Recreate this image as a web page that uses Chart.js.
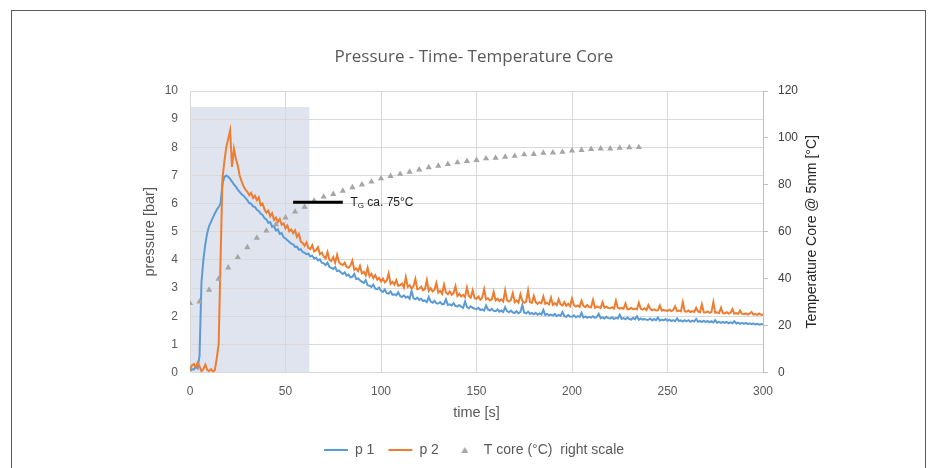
<!DOCTYPE html>
<html>
<head>
<meta charset="utf-8">
<script src="https://cdn.jsdelivr.net/npm/chart.js@4.4.1/dist/chart.umd.min.js"></script>
<style>
  html, body { margin: 0; padding: 0; background: #fff; }
  #wrap { position: relative; width: 928px; height: 468px; overflow: hidden; }
  #frame { position: absolute; left: 11px; top: 10px; width: 913px; height: 480px; border: 1.5px solid #5a5a5a; pointer-events: none; }
  canvas { position: absolute; left: 0; top: 0; }
</style>
</head>
<body>
<div id="wrap">
  <canvas id="chart" width="928" height="468"></canvas>
  <div id="frame"></div>
</div>
<script>
// Pressure readings, one value per second from t = 0 to t = 300 s
const p1Values = [
  0.05, 0.12, 0.1, 0.22, 0.15, 0.6, 3.2, 4.0, 4.55, 4.95,
  5.2, 5.35, 5.5, 5.65, 5.78, 5.88, 6.0, 6.7, 6.95, 7.0,
  6.95, 6.88, 6.78, 6.68, 6.6, 6.5, 6.42, 6.33, 6.28, 6.2,
  6.12, 6.02, 6.0, 5.9, 5.88, 5.78, 5.74, 5.64, 5.6, 5.48,
  5.44, 5.32, 5.34, 5.18, 5.2, 5.04, 5.08, 4.92, 4.95, 4.8,
  4.76, 4.7, 4.64, 4.58, 4.55, 4.46, 4.47, 4.36, 4.38, 4.28,
  4.25, 4.2, 4.22, 4.12, 4.15, 4.05, 4.08, 3.98, 4.02, 3.9,
  3.88, 3.82, 3.9, 3.75, 3.72, 3.68, 3.74, 3.6, 3.62, 3.55,
  3.5, 3.56, 3.44, 3.48, 3.38, 3.4, 3.5, 3.32, 3.34, 3.28,
  3.22, 3.18, 3.28, 3.1, 3.08, 3.04, 3.12, 2.98, 2.96, 3.02,
  2.9, 2.86, 2.95, 2.82, 2.8, 2.88, 2.76, 2.78, 2.74, 2.85,
  2.72, 2.68, 2.74, 2.66, 2.7, 2.62, 2.9, 2.64, 2.6, 2.66,
  2.58, 2.62, 2.54, 2.56, 2.5, 2.68, 2.52, 2.48, 2.55, 2.46,
  2.45, 2.5, 2.42, 2.44, 2.6, 2.4, 2.42, 2.38, 2.46, 2.36,
  2.35, 2.4, 2.34, 2.3, 2.52, 2.32, 2.28, 2.35, 2.3, 2.27,
  2.25, 2.3, 2.22, 2.24, 2.2, 2.38, 2.24, 2.2, 2.26, 2.19,
  2.18, 2.24, 2.16, 2.2, 2.15, 2.32, 2.18, 2.14, 2.2, 2.13,
  2.12, 2.18, 2.1, 2.15, 2.4, 2.12, 2.1, 2.16, 2.08, 2.12,
  2.07, 2.12, 2.05, 2.1, 2.06, 2.22, 2.04, 2.08, 2.03, 2.06,
  2.02, 2.08, 2.0, 2.05, 2.02, 2.15, 2.0, 1.98, 2.04, 1.99,
  1.98, 2.03, 1.96, 2.0, 1.97, 2.12, 1.95, 1.99, 1.94, 1.98,
  1.95, 2.0, 1.94, 1.97, 2.08, 1.93, 1.96, 1.92, 1.98, 1.93,
  1.92, 1.96, 1.9, 1.94, 1.92, 2.05, 1.9, 1.93, 1.89, 1.95,
  1.9, 1.88, 1.94, 1.89, 2.0, 1.87, 1.92, 1.88, 1.9, 1.87,
  1.87, 1.92, 1.85, 1.9, 1.86, 1.95, 1.84, 1.88, 1.85, 1.9,
  1.84, 1.88, 1.83, 1.86, 1.82, 1.92, 1.83, 1.85, 1.81, 1.86,
  1.82, 1.86, 1.8, 1.84, 1.81, 1.9, 1.8, 1.83, 1.79, 1.84,
  1.79, 1.83, 1.78, 1.82, 1.78, 1.86, 1.77, 1.8, 1.76, 1.8,
  1.76, 1.8, 1.75, 1.78, 1.75, 1.82, 1.74, 1.77, 1.73, 1.76,
  1.73, 1.76, 1.72, 1.75, 1.72, 1.74, 1.71, 1.73, 1.7, 1.72,
  1.7
];

const p2Values = [
  0.1, 0.25, 0.3, 0.18, 0.35, 0.22, 0.05, 0.12, 0.28, 0.1,
  0.05, 0.12, 0.04, 0.08, 0.5, 1.0, 4.0, 6.9, 7.5, 8.0,
  8.3, 8.6, 7.3, 7.95, 7.6, 7.35, 7.0, 6.8, 6.62, 6.5,
  6.42, 6.3, 6.38, 6.2, 6.28, 6.12, 6.22, 5.95, 6.0, 5.8,
  5.68, 5.75, 5.55, 5.66, 5.42, 5.5, 5.35, 5.45, 5.25, 5.3,
  5.12, 5.22, 5.02, 5.08, 4.95, 5.05, 4.82, 4.92, 4.65, 4.6,
  4.5, 4.62, 4.42, 4.38, 4.52, 4.3, 4.34, 4.45, 4.2, 4.26,
  4.12, 4.05, 4.28, 4.0, 3.96, 4.1, 3.9, 4.18, 3.92, 3.85,
  3.82, 3.9, 3.75, 3.72, 3.8, 3.98, 3.65, 3.7, 3.6, 3.78,
  3.52, 3.58, 3.45, 3.72, 3.42, 3.5, 3.35, 3.46, 3.3, 3.36,
  3.23, 3.34, 3.2, 3.26, 3.52, 3.15, 3.22, 3.12, 3.28, 3.08,
  3.1, 3.16, 3.02, 3.38, 3.04, 3.1, 2.98, 3.06, 3.32, 2.96,
  2.98, 3.05, 2.92, 2.96, 3.28, 2.9, 3.0, 2.88, 2.94, 3.18,
  2.84, 2.9, 2.8, 3.12, 2.84, 2.78, 2.88, 2.76, 2.82, 3.06,
  2.72, 2.8, 2.7, 2.76, 2.68, 3.02, 2.72, 2.66, 2.92, 2.64,
  2.62, 2.7, 2.58, 2.66, 2.96, 2.6, 2.64, 2.56, 2.6, 2.86,
  2.56, 2.62, 2.54, 2.6, 2.52, 2.92, 2.56, 2.52, 2.58, 2.82,
  2.5, 2.56, 2.48, 2.78, 2.54, 2.48, 2.52, 2.92, 2.5, 2.47,
  2.72, 2.5, 2.44, 2.5, 2.46, 2.7, 2.44, 2.48, 2.42, 2.66,
  2.4, 2.46, 2.39, 2.6, 2.42, 2.38, 2.5, 2.37, 2.44, 2.36,
  2.62, 2.4, 2.34, 2.38, 2.33, 2.55, 2.36, 2.32, 2.4, 2.32,
  2.32, 2.58, 2.3, 2.35, 2.32, 2.29, 2.5, 2.3, 2.34, 2.29,
  2.28, 2.32, 2.27, 2.55, 2.3, 2.27, 2.3, 2.26, 2.45, 2.25,
  2.25, 2.3, 2.24, 2.27, 2.24, 2.48, 2.26, 2.23, 2.28, 2.22,
  2.4, 2.26, 2.21, 2.24, 2.2, 2.21, 2.38, 2.2, 2.23, 2.2,
  2.19, 2.23, 2.18, 2.22, 2.35, 2.18, 2.2, 2.17, 2.5, 2.17,
  2.16, 2.2, 2.15, 2.18, 2.15, 2.3, 2.17, 2.14, 2.42, 2.14,
  2.13, 2.17, 2.12, 2.15, 2.5, 2.12, 2.14, 2.11, 2.3, 2.11,
  2.1, 2.14, 2.09, 2.12, 2.25, 2.09, 2.11, 2.08, 2.2, 2.08,
  2.07, 2.1, 2.06, 2.09, 2.15, 2.06, 2.08, 2.05, 2.1, 2.05,
  2.05
];

// core temperature, right scale, one reading every 5 s
const coreTimeSec = [
  0, 5, 10, 15, 20, 25, 30, 35, 40, 45, 50, 55, 60, 65, 70, 75,
  80, 85, 90, 95, 100, 105, 110, 115, 120, 125, 130, 135, 140, 145, 150, 155,
  160, 165, 170, 175, 180, 185, 190, 195, 200, 205, 210, 215, 220, 225, 230, 235
];
const coreTempC = [
  29.5, 30.2, 35.2, 39.9, 44.7, 49.1, 53.3, 57.4, 60.4, 63.1, 66.0, 68.5, 70.6, 73.2, 74.9, 76.0,
  77.4, 78.9, 80.1, 81.3, 82.7, 83.7, 84.6, 85.5, 86.5, 87.4, 88.1, 88.8, 89.5, 90.1, 90.5, 91.2,
  91.5, 91.9, 92.3, 92.9, 93.1, 93.6, 93.7, 94.0, 94.5, 94.8, 95.2, 95.4, 95.4, 95.7, 95.9, 96.0
];

// glass transition marker (time range, pressure level) and shaded zone
const tgMarkTime = [54, 80];
const tgMarkLevel = 6.05;
const shadeTime = [0, 62.5];
const shadeTopBar = 9.43;

const xTicks = [0, 50, 100, 150, 200, 250, 300];
const chartTitle = 'Pressure - Time- Temperature Core';

const TITLE_FONT = '"Open Sans", Lato, sans-serif';
const FONT = '"Liberation Sans", Arial, sans-serif';
const TEXT_GREY = '#595959';
const GRID = '#d9d9d9';
const CORE_GREY = '#a5a5a5';

const timeSec = p1Values.map((_, i) => i);
const toPoints = (xs, ys) => xs.map((x, i) => ({x: x, y: ys[i]}));

// small triangle for the legend (the default one gets stretched by pointStyleWidth)
const legendTriangle = document.createElement('canvas');
legendTriangle.width = 7;
legendTriangle.height = 6;
const tctx = legendTriangle.getContext('2d');
tctx.fillStyle = CORE_GREY;
tctx.beginPath();
tctx.moveTo(3.5, 0);
tctx.lineTo(7, 6);
tctx.lineTo(0, 6);
tctx.closePath();
tctx.fill();

// light grey box behind the first minute
const shadePlugin = {
  id: 'shade',
  beforeDraw(chart) {
    const {ctx, scales: {x, y}} = chart;
    const left = x.getPixelForValue(shadeTime[0]);
    const right = x.getPixelForValue(shadeTime[1]);
    const top = y.getPixelForValue(shadeTopBar);
    const bottom = y.getPixelForValue(0);
    ctx.save();
    ctx.fillStyle = '#dfe4ee';
    ctx.fillRect(left, top, right - left, bottom - top);
    ctx.restore();
  }
};

// T_G label and the right axis title (reads bottom to top like the left one)
const labelPlugin = {
  id: 'labels',
  afterDatasetsDraw(chart) {
    const {ctx, scales: {x, y, y1}, chartArea} = chart;
    ctx.save();
    ctx.fillStyle = '#1f1f1f';
    ctx.textBaseline = 'middle';
    let tx = x.getPixelForValue(84);
    const ty = y.getPixelForValue(tgMarkLevel);
    ctx.font = '12px ' + FONT;
    ctx.fillText('T', tx, ty);
    tx += ctx.measureText('T').width;
    ctx.font = '8px ' + FONT;
    ctx.fillText('G', tx, ty + 4);
    tx += ctx.measureText('G').width;
    ctx.font = '12px ' + FONT;
    ctx.fillText(' ca. 75°C', tx, ty);

    ctx.translate(y1.right - 12, (chartArea.top + chartArea.bottom) / 2);
    ctx.rotate(-Math.PI / 2);
    ctx.textAlign = 'center';
    ctx.fillStyle = '#262626';
    ctx.font = '14px ' + FONT;
    ctx.fillText('Temperature Core @ 5mm [°C]', 0, 0);
    ctx.restore();
  }
};

new Chart(document.getElementById('chart'), {
  type: 'line',
  data: {
    datasets: [
      {
        label: 'p 1',
        data: toPoints(timeSec, p1Values),
        borderColor: '#5b9bd5',
        backgroundColor: '#5b9bd5',
        borderWidth: 2,
        pointRadius: 0,
        pointStyle: 'line',
        order: 3
      },
      {
        label: 'p 2',
        data: toPoints(timeSec, p2Values),
        borderColor: '#ed7d31',
        backgroundColor: '#ed7d31',
        borderWidth: 2,
        pointRadius: 0,
        pointStyle: 'line',
        order: 2
      },
      {
        label: 'T core (°C)  right scale',
        data: toPoints(coreTimeSec, coreTempC),
        yAxisID: 'y1',
        showLine: false,
        pointStyle: 'triangle',
        pointRadius: 3.6,
        borderWidth: 0,
        borderColor: CORE_GREY,
        backgroundColor: CORE_GREY,
        order: 1
      },
      {
        label: '',
        data: toPoints(tgMarkTime, [tgMarkLevel, tgMarkLevel]),
        borderColor: '#000',
        borderWidth: 3,
        pointRadius: 0,
        order: 0
      }
    ]
  },
  options: {
    responsive: false,
    animation: false,
    layout: {padding: {left: 124, right: 104, top: 0, bottom: 1}},
    plugins: {
      title: {
        display: true,
        text: chartTitle,
        color: TEXT_GREY,
        font: {family: TITLE_FONT, size: 17, weight: 'normal'},
        padding: {top: 47, bottom: 23.6}
      },
      legend: {
        position: 'bottom',
        labels: {
          color: TEXT_GREY,
          font: {family: FONT, size: 14},
          usePointStyle: true,
          pointStyleWidth: 24,
          boxHeight: 5,
          padding: 14,
          filter: item => item.text !== '',
          sort: (a, b) => a.datasetIndex - b.datasetIndex,
          generateLabels(chart) {
            const items = Chart.defaults.plugins.legend.labels.generateLabels(chart);
            items.forEach(item => {
              if (item.datasetIndex === 2) item.pointStyle = legendTriangle;
            });
            return items;
          }
        }
      },
      tooltip: {enabled: false}
    },
    scales: {
      x: {
        type: 'linear',
        min: 0,
        max: 300,
        afterBuildTicks: s => { s.ticks = xTicks.map(v => ({value: v})); },
        ticks: {color: TEXT_GREY, font: {family: FONT, size: 12}, padding: 12},
        grid: {color: GRID, drawTicks: false},
        border: {display: false},
        title: {display: true, text: 'time [s]', color: TEXT_GREY, font: {family: FONT, size: 14.5}, padding: {top: 4, bottom: 7}},
        afterFit: s => { s.height = 56.5; }
      },
      y: {
        min: 0,
        max: 10,
        ticks: {stepSize: 1, color: TEXT_GREY, font: {family: FONT, size: 12}, padding: 12},
        grid: {color: GRID, drawTicks: false},
        border: {display: false},
        title: {display: true, text: 'pressure [bar]', color: TEXT_GREY, font: {family: FONT, size: 14.5}, padding: {top: 17, bottom: 4}},
        afterFit: s => { s.width = 66; }
      },
      y1: {
        position: 'right',
        min: 0,
        max: 120,
        ticks: {stepSize: 20, color: '#404040', font: {family: FONT, size: 12}, padding: 10},
        grid: {drawOnChartArea: false, drawTicks: true, tickLength: 5, color: '#bfbfbf'},
        border: {display: true, color: '#bfbfbf'},
        afterFit: s => { s.width = 61; }
      }
    }
  },
  plugins: [shadePlugin, labelPlugin]
});
</script>
</body>
</html>
